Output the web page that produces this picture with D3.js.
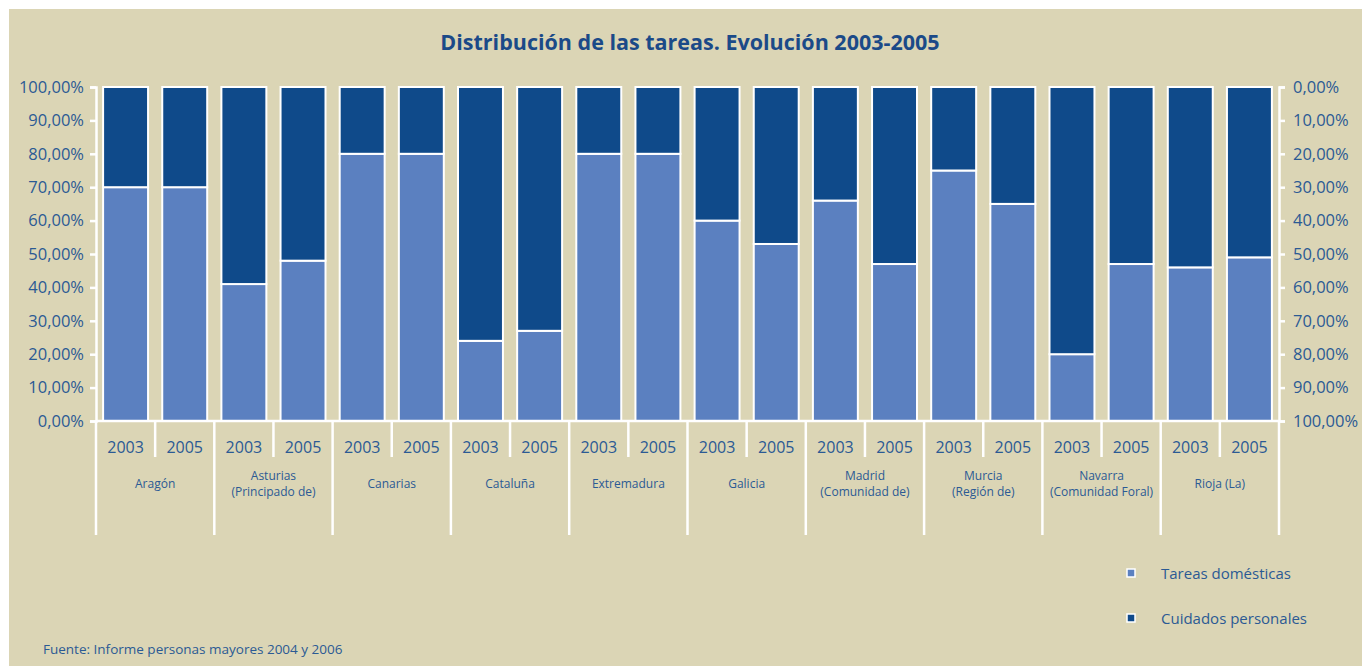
<!DOCTYPE html>
<html>
<head>
<meta charset="utf-8">
<script src="https://cdn.jsdelivr.net/npm/d3@7"></script>
<style>
  body { margin: 0; background: #fff; }
  text { font-family: "Open Sans", "Noto Sans", sans-serif; }
</style>
</head>
<body>
<svg width="1362" height="666"></svg>
<script>
// regions and years
var regions = ["Aragón", "Asturias\n(Principado de)", "Canarias", "Cataluña", "Extremadura",
  "Galicia", "Madrid\n(Comunidad de)", "Murcia\n(Región de)", "Navarra\n(Comunidad Foral)", "Rioja (La)"];
var years = ["2003", "2005"];

// share of "tareas domésticas" in %, the rest is "cuidados personales"
var tareas2003 = [70, 41, 80, 24, 80, 60, 66, 75, 20, 46];
var tareas2005 = [70, 48, 80, 27, 80, 53, 47, 65, 47, 49];

var pctTicks = [0, 10, 20, 30, 40, 50, 60, 70, 80, 90, 100];
var seriesNames = ["Tareas domésticas", "Cuidados personales"];
var colors = ["#5b80c0", "#0f4a8a"];
var textColor = "#2b5a94";

var svg = d3.select("svg");
var fmt = function(v) { return v.toFixed(2).replace(".", ",") + "%"; };

// background panel
svg.append("rect").attr("x", 9).attr("y", 9).attr("width", 1353).attr("height", 657)
    .style("fill", "#dbd5b5");

svg.append("text")
    .attr("x", 690).attr("y", 50)
    .attr("text-anchor", "middle")
    .style("font-size", "21.5px").style("font-weight", "bold").style("fill", "#1b4a88")
    .text("Distribución de las tareas. Evolución 2003-2005");

// flatten bars
var bars = [];
regions.forEach(function(r, i) {
  bars.push({region: i, year: years[0], key: i + "-0", v: tareas2003[i]});
  bars.push({region: i, year: years[1], key: i + "-1", v: tareas2005[i]});
});

var plotLeft = 96, plotRight = 1279, plotTop = 87, plotBottom = 421;
var x = d3.scaleBand().domain(bars.map(function(d) { return d.key; }))
    .range([plotLeft, plotRight]).paddingInner(0.24).paddingOuter(0.12);
var xr = d3.scaleBand().domain(d3.range(regions.length)).range([plotLeft, plotRight]);
var y = d3.scaleLinear().domain([0, 100]).range([plotBottom, plotTop]);
var yr = d3.scaleLinear().domain([0, 100]).range([plotTop, plotBottom]);

// bars: bottom part tareas, top part cuidados
var g = svg.selectAll("g.bar").data(bars).enter().append("g").attr("class", "bar");
g.append("rect")
    .attr("x", function(d) { return x(d.key); })
    .attr("width", x.bandwidth())
    .attr("y", function(d) { return y(d.v); })
    .attr("height", function(d) { return y(0) - y(d.v); })
    .style("fill", colors[0]).style("stroke", "#fff").style("stroke-width", 2);
g.append("rect")
    .attr("x", function(d) { return x(d.key); })
    .attr("width", x.bandwidth())
    .attr("y", y(100))
    .attr("height", function(d) { return y(d.v) - y(100); })
    .style("fill", colors[1]).style("stroke", "#fff").style("stroke-width", 2);

// axes
var yAxisL = d3.axisLeft(y).tickValues(pctTicks).tickFormat(fmt).tickSize(6).tickPadding(6);
var yAxisR = d3.axisRight(yr).tickValues(pctTicks).tickFormat(fmt).tickSize(6).tickPadding(8);

function styleAxis(sel) {
  sel.select(".domain").style("stroke", "#fff").style("stroke-width", 2.5);
  sel.selectAll(".tick line").style("stroke", "#fff").style("stroke-width", 2.5);
  sel.selectAll(".tick text").style("fill", textColor).style("font-size", "16.5px")
      .style("font-family", "\"Open Sans\", sans-serif");
}
svg.append("g").attr("transform", "translate(" + plotLeft + ",0)").call(yAxisL).call(styleAxis);
svg.append("g").attr("transform", "translate(" + plotRight + ",0)").call(yAxisR).call(styleAxis);

// baseline
svg.append("line").attr("x1", plotLeft).attr("x2", plotRight).attr("y1", plotBottom).attr("y2", plotBottom)
    .style("stroke", "#fff").style("stroke-width", 2.5);

// category separators
var bounds = d3.range(regions.length + 1).map(function(i) {
  return i < regions.length ? xr(i) : plotRight;
});
svg.selectAll("line.sep").data(bounds).enter().append("line")
    .attr("x1", function(d) { return d; }).attr("x2", function(d) { return d; })
    .attr("y1", plotBottom).attr("y2", 535)
    .style("stroke", "#fff").style("stroke-width", 2.5);
svg.selectAll("line.mid").data(d3.range(regions.length)).enter().append("line")
    .attr("x1", function(i) { return xr(i) + xr.bandwidth() / 2; })
    .attr("x2", function(i) { return xr(i) + xr.bandwidth() / 2; })
    .attr("y1", plotBottom).attr("y2", 457)
    .style("stroke", "#fff").style("stroke-width", 2.5);

// year labels
svg.selectAll("text.year").data(bars).enter().append("text")
    .attr("x", function(d) { return xr(d.region) + xr.bandwidth() * (d.year === years[0] ? 0.25 : 0.75); })
    .attr("y", 453)
    .attr("text-anchor", "middle")
    .style("font-size", "16px").style("fill", textColor)
    .text(function(d) { return d.year; });

// region labels
var rl = svg.selectAll("text.region").data(regions).enter().append("text")
    .attr("text-anchor", "middle")
    .style("font-size", "12px").style("fill", textColor);
rl.each(function(r, i) {
  var lines = r.split("\n");
  var t = d3.select(this);
  lines.forEach(function(l, k) {
    t.append("tspan")
        .attr("x", xr(i) + xr.bandwidth() / 2)
        .attr("y", 488 + (k - (lines.length - 1) / 2) * 16)
        .text(l);
  });
});

// legend
var lg = svg.selectAll("g.legend").data(seriesNames).enter().append("g")
    .attr("transform", function(d, i) { return "translate(1131," + (573 + i * 45) + ")"; });
lg.append("rect").attr("x", -4).attr("y", -4).attr("width", 8).attr("height", 8)
    .style("fill", function(d, i) { return colors[i]; })
    .style("stroke", "#fff").style("stroke-width", 1.5);
lg.append("text").attr("x", 30).attr("y", 6)
    .style("font-size", "15px").style("fill", textColor)
    .text(function(d) { return d; });

svg.append("text").attr("x", 43).attr("y", 654)
    .style("font-size", "13.5px").style("fill", textColor)
    .text("Fuente: Informe personas mayores 2004 y 2006");
</script>
</body>
</html>
